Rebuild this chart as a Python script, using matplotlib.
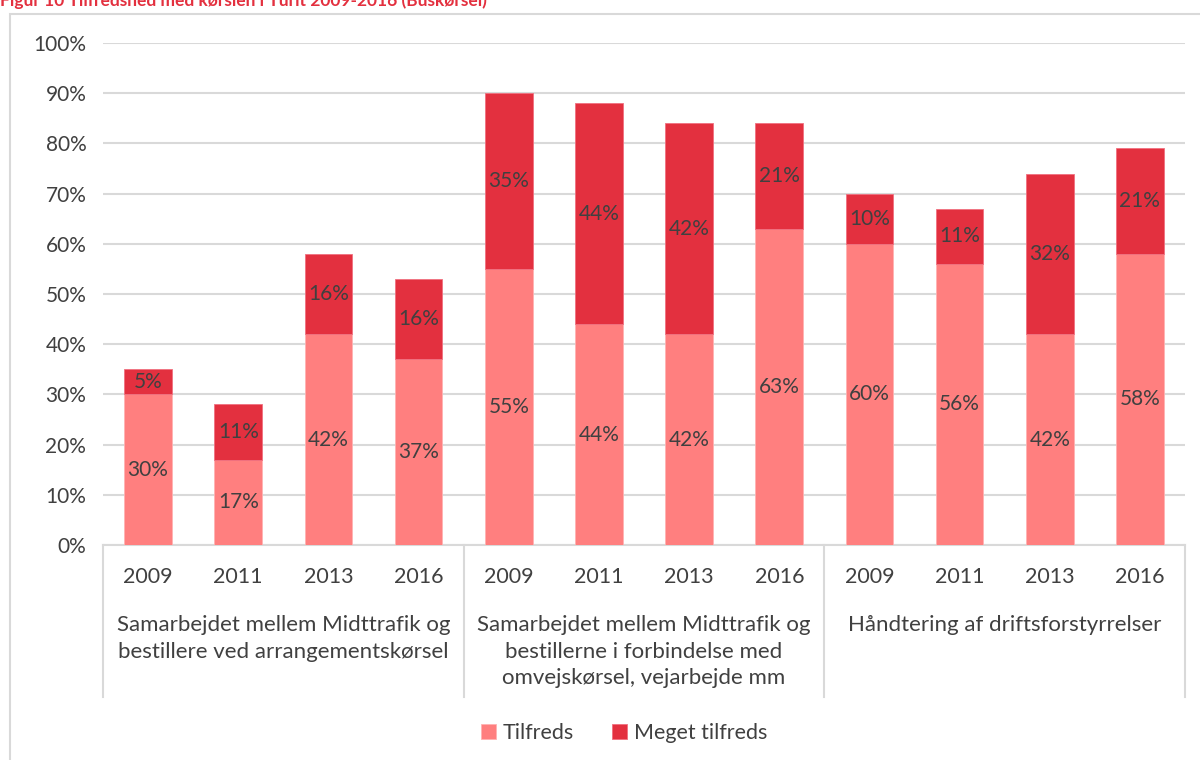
import matplotlib
matplotlib.use('Agg')
import matplotlib.pyplot as plt
import matplotlib.transforms as mtransforms
from matplotlib.patches import Rectangle

plt.rcParams['font.family'] = ['Lato', 'DejaVu Sans']

# data
years = ['2009', '2011', '2013', '2016'] * 3
groups = ['Samarbejdet mellem Midttrafik og\nbestillere ved arrangementskørsel',
          'Samarbejdet mellem Midttrafik og\nbestillerne i forbindelse med\nomvejskørsel, vejarbejde mm',
          'Håndtering af driftsforstyrrelser']
tilfreds = [30, 17, 42, 37, 55, 44, 42, 63, 60, 56, 42, 58]
meget = [5, 11, 16, 16, 35, 44, 42, 21, 10, 11, 32, 21]
title = 'Figur 10 Tilfredshed med kørslen i Turit 2009-2016 (Buskørsel)'

c_tilf = '#FF7F7F'
c_meget = '#E3303F'
txt = '#404040'
grid = '#D9D9D9'

fig = plt.figure(figsize=(12, 7.6), dpi=100)
# ramme om hele figuren
fig.patches.append(Rectangle((10 / 1200, -0.05), 1.2, 1 - 14 / 760 + 0.05,
                             transform=fig.transFigure, fill=False,
                             edgecolor=grid, linewidth=1.5))
fig.text(0.0, 1 - 6 / 760, title, color='#E3303F', fontsize=12.5, fontweight='bold',
         va='baseline', ha='left')

ax = fig.add_axes([103 / 1200, (760 - 545) / 760, (1185 - 103) / 1200, (545 - 43) / 760])
x = list(range(len(years)))
t = [v / 100 for v in tilfreds]
m = [v / 100 for v in meget]
ax.bar(x, t, width=0.53, color=c_tilf, edgecolor='#FFB3B3', linewidth=0.6, label='Tilfreds', zorder=3)
ax.bar(x, m, width=0.53, bottom=t, color=c_meget, edgecolor='#F07080', linewidth=0.6,
       label='Meget tilfreds', zorder=3)

for i in x:
    ax.text(i, t[i] / 2, f'{tilfreds[i]}%', ha='center', va='center', fontsize=15, color=txt, zorder=4)
    ax.text(i, t[i] + m[i] / 2, f'{meget[i]}%', ha='center', va='center', fontsize=15, color=txt, zorder=4)

ax.set_xlim(-0.5, len(years) - 0.5)
ax.set_ylim(0, 1.0)
ax.set_yticks([i / 10 for i in range(11)])
ax.set_yticklabels([f'{i * 10}%' for i in range(11)])
ax.yaxis.grid(True, color=grid, linewidth=1.5, zorder=0)
ax.set_axisbelow(True)
for s in ['top', 'right', 'left']:
    ax.spines[s].set_visible(False)
ax.spines['bottom'].set_color(grid)
ax.spines['bottom'].set_linewidth(1.5)
ax.tick_params(axis='y', length=0, pad=12, labelsize=15, labelcolor=txt)
ax.set_xticks(x)
ax.set_xticklabels(years)
ax.tick_params(axis='x', length=0, pad=16, labelsize=15.5, labelcolor=txt)

trans = mtransforms.blended_transform_factory(ax.transData, ax.transAxes)
sep_bottom = -(697 - 545) / 502
for xs in [-0.5, 3.5, 7.5, 11.5]:
    ax.plot([xs, xs], [0, sep_bottom], transform=trans, color=grid, linewidth=1.5, clip_on=False)
for gi, g in enumerate(groups):
    ax.text(gi * 4 + 1.5, -(615 - 545) / 502, g, transform=trans, ha='center', va='top',
            fontsize=16, color=txt, linespacing=1.42)

fig.legend(loc='center', bbox_to_anchor=(0.52, 1 - 733 / 760), ncol=2, frameon=False,
           fontsize=15.5, labelcolor=txt, handlelength=0.7, handleheight=0.7,
           handletextpad=0.3, columnspacing=1.8)

fig.savefig('out.png', dpi=100)
